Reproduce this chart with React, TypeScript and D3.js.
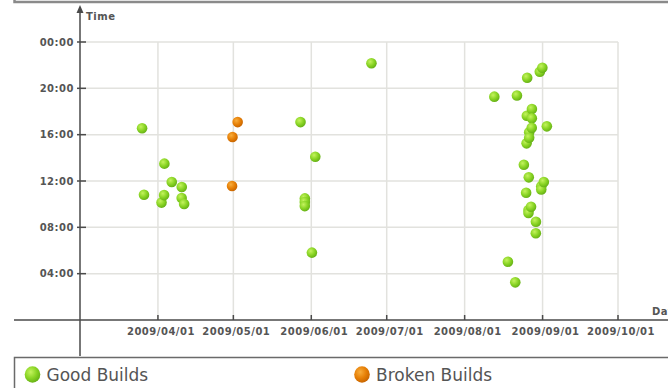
import React from "react";
import * as d3 from "d3";

// Build timestamps (UTC), plotted by date on x and time of day on y
const goodBuilds: string[] = [
  "2009-03-25 16:33", "2009-03-26 10:49", "2009-04-02 10:08", "2009-04-03 13:30",
  "2009-04-03 10:47", "2009-04-06 11:55", "2009-04-10 11:29", "2009-04-10 10:32",
  "2009-04-11 10:01",
  "2009-05-27 17:05", "2009-05-29 10:30", "2009-05-29 10:11", "2009-05-29 09:50",
  "2009-06-01 05:49", "2009-06-02 14:06", "2009-06-24 22:10",
  "2009-08-12 19:17", "2009-08-18 05:02", "2009-08-21 19:23", "2009-08-21 03:15",
  "2009-08-24 13:24", "2009-08-25 20:55", "2009-08-25 17:38", "2009-08-25 15:15",
  "2009-08-25 10:59", "2009-08-26 16:12", "2009-08-26 15:44", "2009-08-26 12:19",
  "2009-08-26 09:30", "2009-08-26 09:14", "2009-08-27 18:13", "2009-08-27 17:25",
  "2009-08-27 16:36", "2009-08-27 09:47", "2009-08-29 08:29", "2009-08-29 07:29",
  "2009-08-30 21:26", "2009-08-31 21:47", "2009-08-31 11:33", "2009-08-31 11:16",
  "2009-09-01 11:55", "2009-09-02 16:43",
];

const brokenBuilds: string[] = [
  "2009-04-30 15:48", "2009-04-30 11:34", "2009-05-02 17:05",
];

const dateTicks: string[] = [
  "2009-04-01", "2009-05-01", "2009-06-01", "2009-07-01",
  "2009-08-01", "2009-09-01", "2009-10-01",
];
const hourTicks: number[] = [4, 8, 12, 16, 20, 24];

const legendItems = [
  { label: "Good Builds", fill: "url(#ballGreen)" },
  { label: "Broken Builds", fill: "url(#ballOrange)" },
];

const parseStamp = d3.utcParse("%Y-%m-%d %H:%M");
const parseDay = d3.utcParse("%Y-%m-%d");
const fmtDay = d3.utcFormat("%Y/%m/%d");
const fmtHour = (h: number) => `${String(h % 24).padStart(2, "0")}:00`;

const W = 668;
const H = 388;

export default function App() {
  const x = d3
    .scaleUtc()
    .domain([parseDay("2009-03-01")!, parseDay("2009-10-01")!])
    .range([80, 618]);
  const y = d3.scaleLinear().domain([0, 24]).range([320, 42]);

  const toPoint = (s: string) => {
    const t = parseStamp(s)!;
    return { cx: x(t), cy: y(t.getUTCHours() + t.getUTCMinutes() / 60) };
  };

  const axisColor = "#4a4a4a";
  const gridColor = "#e2e2de";
  const labelStyle: React.CSSProperties = {
    fontFamily: "DejaVu Sans",
    fontSize: 10,
    fontWeight: "bold",
    letterSpacing: 0.5,
  };

  const ticksX = dateTicks.map((d) => parseDay(d)!);
  const gridRight = x(ticksX[ticksX.length - 1]);

  return (
    <div style={{ position: "fixed", left: 0, top: 0 }}>
      <svg width={W} height={H} style={{ display: "block", background: "#fff" }}>
        <defs>
          <radialGradient id="ballGreen" cx="38%" cy="35%" r="70%">
            <stop offset="0%" stopColor="#c4f35e" />
            <stop offset="55%" stopColor="#89d424" />
            <stop offset="100%" stopColor="#62ad14" />
          </radialGradient>
          <radialGradient id="ballOrange" cx="38%" cy="35%" r="70%">
            <stop offset="0%" stopColor="#f8ad3c" />
            <stop offset="55%" stopColor="#e67f06" />
            <stop offset="100%" stopColor="#c46200" />
          </radialGradient>
        </defs>

        {/* frame edge above the plot */}
        <path d={`M14.5,-5 V2 H${W + 5}`} fill="none" stroke="#8a8a8a" strokeWidth={2.5} />

        {/* grid */}
        {hourTicks.map((h) => (
          <line key={`gh${h}`} x1={80} x2={gridRight} y1={y(h)} y2={y(h)} stroke={gridColor} strokeWidth={1.5} />
        ))}
        {ticksX.map((d, i) => (
          <line key={`gv${i}`} x1={x(d)} x2={x(d)} y1={y(24)} y2={y(0)} stroke={gridColor} strokeWidth={1.5} />
        ))}

        {/* axes */}
        <line x1={14} x2={W} y1={y(0)} y2={y(0)} stroke={axisColor} strokeWidth={1.5} />
        <line x1={80} x2={80} y1={10} y2={356} stroke={axisColor} strokeWidth={1.5} />
        <path d="M80,5 L76.5,13 L83.5,13 Z" fill={axisColor} />

        {/* y ticks and labels */}
        {hourTicks.map((h) => (
          <g key={`yt${h}`}>
            <line x1={77} x2={86} y1={y(h)} y2={y(h)} stroke={axisColor} strokeWidth={1.5} />
            <text x={74} y={y(h) + 3.5} textAnchor="end" fill="#555" style={labelStyle}>
              {fmtHour(h)}
            </text>
          </g>
        ))}
        <text x={86} y={20} fill="#555" style={labelStyle}>Time</text>

        {/* x ticks and labels */}
        {ticksX.map((d, i) => (
          <g key={`xt${i}`}>
            <line x1={x(d)} x2={x(d)} y1={y(0) - 5} y2={y(0)} stroke={axisColor} strokeWidth={1.5} />
            <text x={x(d) + 3} y={335} textAnchor="middle" fill="#555" style={labelStyle}>
              {fmtDay(d)}
            </text>
          </g>
        ))}
        <text x={652} y={315} fill="#555" style={labelStyle}>Date</text>

        {/* builds */}
        {goodBuilds.map((s, i) => {
          const p = toPoint(s);
          return <circle key={`g${i}`} cx={p.cx} cy={p.cy} r={5.3} fill="url(#ballGreen)" />;
        })}
        {brokenBuilds.map((s, i) => {
          const p = toPoint(s);
          return <circle key={`b${i}`} cx={p.cx} cy={p.cy} r={5.3} fill="url(#ballOrange)" />;
        })}

        {/* legend */}
        <rect x={14.5} y={357.5} width={W} height={60} fill="#fff" stroke="#6a6a6a" strokeWidth={1.5} />
        {legendItems.map((item, i) => {
          const lx = 32.5 + i * 329.5;
          return (
            <g key={item.label}>
              <ellipse cx={lx} cy={374.5} rx={7.8} ry={8.3} fill={item.fill} />
              <text x={lx + 14} y={381} fill="#555" style={{ fontFamily: "DejaVu Sans", fontSize: 17 }}>
                {item.label}
              </text>
            </g>
          );
        })}
      </svg>
    </div>
  );
}
